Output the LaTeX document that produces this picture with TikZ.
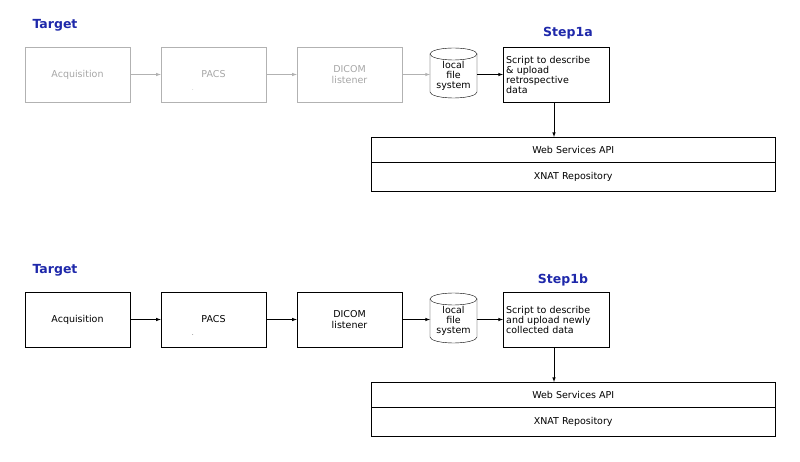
\documentclass[tikz,border=0pt]{standalone}
\usepackage{fontspec}
\setmainfont{DejaVu Sans}
\usetikzlibrary{positioning}
\definecolor{stepblue}{RGB}{30,40,170}
\tikzset{
  box/.style={draw, minimum width=105pt, minimum height=55pt, font=\fontsize{9.5}{10.5}\selectfont, inner sep=0pt},
  dim/.style={draw=black!30, text=black!35},
  flow/.style={->, >=latex, semithick},
  steplabel/.style={font=\bfseries\fontsize{12.5}{13}\selectfont, text=stepblue},
  script/.style={draw, minimum width=106pt, minimum height=55pt, align=left, text width=100pt, font=\fontsize{9.5}{10}\selectfont, inner sep=3pt, anchor=north west},
  api/.style={draw, minimum width=404pt, minimum height=25pt, font=\fontsize{9.5}{10.5}\selectfont, anchor=north west},
  repo/.style={draw, minimum width=404pt, minimum height=29pt, font=\fontsize{9.5}{10.5}\selectfont, anchor=north west}
}
\newcommand{\drum}[3]{% x, y top, name
  \draw[fill=white] (#1,#2+6) -- (#1,#2+44) arc (180:0:23.5 and 6) -- (#1+47,#2+6);
  \draw[fill=white] (#1+23.5,#2+6) ellipse (23.5 and 6);
  \node[align=center, font=\fontsize{9.5}{10}\selectfont, inner sep=0pt] (#3) at (#1+23.5,#2+28) {local\\file\\system};
  \coordinate (#3w) at (#1,#2+26.5);
  \coordinate (#3e) at (#1+47,#2+26.5);
}
\begin{document}
\begin{tikzpicture}[x=1pt, y=-1pt]
\useasboundingbox (0,0) rectangle (800,462);

% Step1a
\node[steplabel] (tgtA) at (55,25) {Target};
\node[box, dim] (acqA) at (77.5,74.5) {Acquisition};
\node[box, dim] (pacsA) at (213.5,74.5) {PACS};
\node[font=\tiny, text=black!40] (dotA) at (193,90) {.};
\node[box, dim, align=center] (dicomA) at (349.5,74.5) {DICOM\\listener};
\drum{430}{48}{fsA}
\node[steplabel] (stepA) at (568,33) {Step1a};
\node[script] (scrA) at (503,47) {Script to describe\\\& upload\\retrospective\\data};
\node[api] (apiA) at (371,137) {Web Services API};
\node[repo] (repoA) at (371,162) {XNAT Repository};

\draw[flow, black!30] (acqA) -- (pacsA);
\draw[flow, black!30] (pacsA) -- (dicomA);
\draw[flow, black!30] (dicomA.east |- fsAw) -- (fsAw);
\draw[flow] (fsAe) -- (scrA.west |- fsAe);
\draw[flow] (scrA.south -| 554,0) -- (apiA.north -| 554,0);

% Step1b
\node[steplabel] (tgtB) at (55,270) {Target};
\node[box] (acqB) at (77.5,319.5) {Acquisition};
\node[box] (pacsB) at (213.5,319.5) {PACS};
\node[font=\tiny] (dotB) at (193,335) {.};
\node[box, align=center] (dicomB) at (349.5,319.5) {DICOM\\listener};
\drum{430}{293}{fsB}
\node[steplabel] (stepB) at (563,280) {Step1b};
\node[script] (scrB) at (503,292) {Script to describe\\and upload newly\\collected data};
\node[api] (apiB) at (371,382) {Web Services API};
\node[repo] (repoB) at (371,407) {XNAT Repository};

\draw[flow] (acqB) -- (pacsB);
\draw[flow] (pacsB) -- (dicomB);
\draw[flow] (dicomB.east |- fsBw) -- (fsBw);
\draw[flow] (fsBe) -- (scrB.west |- fsBe);
\draw[flow] (scrB.south -| 554,0) -- (apiB.north -| 554,0);

\end{tikzpicture}
\end{document}
